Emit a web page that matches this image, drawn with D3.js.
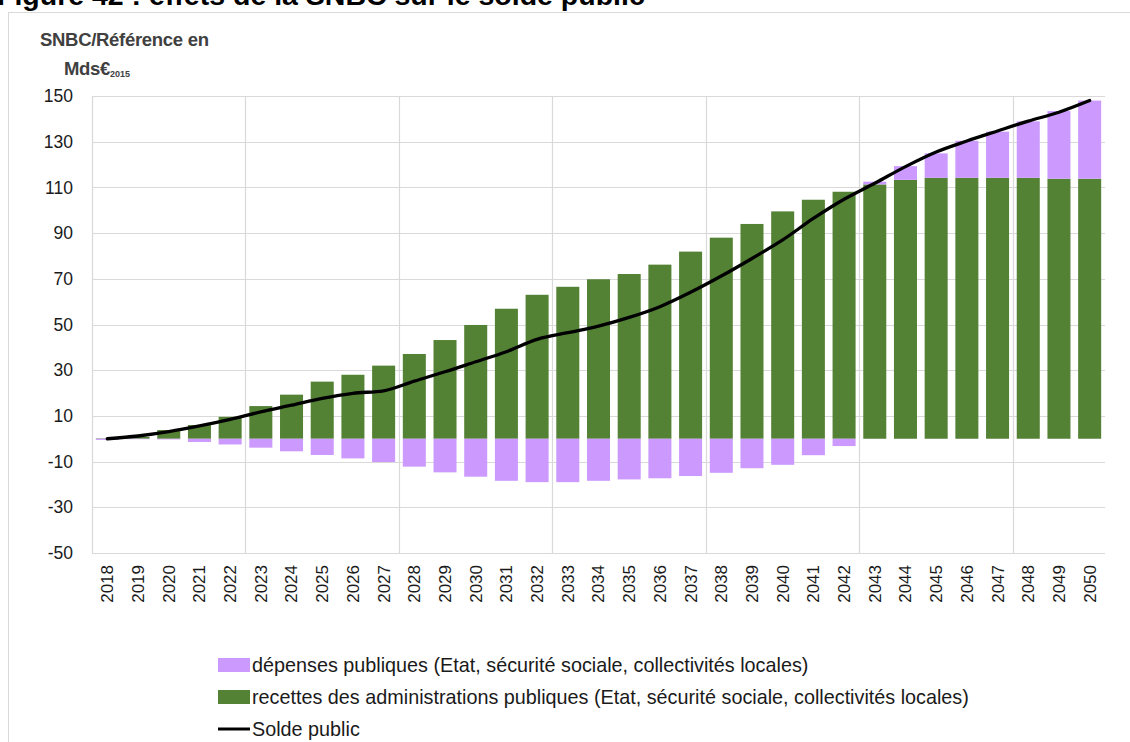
<!DOCTYPE html>
<html>
<head>
<meta charset="utf-8">
<script src="https://cdn.jsdelivr.net/npm/d3@7"></script>
<style>
  html, body { margin: 0; padding: 0; background: #fff; }
  svg { display: block; }
</style>
</head>
<body>
<svg id="chart" width="1130" height="742"></svg>
<script>
// Years on the category axis
const years = ["2018","2019","2020","2021","2022","2023","2024","2025","2026","2027","2028","2029","2030","2031","2032","2033","2034","2035","2036","2037","2038","2039","2040","2041","2042","2043","2044","2045","2046","2047","2048","2049","2050"];

// Recettes des administrations publiques (Mds€ 2015)
const recettes = [0.2,0.8,3.8,6.0,9.6,14.3,19.3,25.0,28.0,32.0,37.1,43.2,49.8,56.9,63.0,66.5,69.8,72.1,76.2,81.9,88.0,94.0,99.5,104.6,108.1,111.3,113.3,114.2,114.2,114.2,114.2,113.8,113.8];

// Dépenses publiques (Mds€ 2015)
const depenses = [-0.5,-0.2,-0.3,-1.4,-2.5,-3.9,-5.5,-7.1,-8.6,-10.2,-12.2,-14.7,-16.6,-18.4,-19.0,-19.0,-18.4,-17.8,-17.3,-16.3,-14.9,-12.9,-11.4,-7.2,-3.2,1.2,6.0,10.7,16.2,20.2,24.7,29.6,34.2];

// Solde public (Mds€ 2015)
const solde = [0,1.2,3.1,5.6,8.5,11.8,14.7,17.7,19.9,21.0,25.2,29.3,33.7,38.1,43.5,46.4,49.3,53.1,57.8,64.1,71.2,78.9,87.0,96.4,104.8,111.8,119.1,125.5,130.3,134.7,139.0,142.9,148.0];

// Value axis ticks
const yTicks = [150,130,110,90,70,50,30,10,-10,-30,-50];

const legendLabels = [
  "dépenses publiques (Etat, sécurité sociale, collectivités locales)",
  "recettes des administrations publiques (Etat, sécurité sociale, collectivités locales)",
  "Solde public"
];

const COL_DEP = "#cc99ff";
const COL_REC = "#548235";
const GRID = "#d9d9d9";
const SANS = "'Liberation Sans', Arial, sans-serif";

const svg = d3.select("#chart");

// Chart title (runs off the top edge)
svg.append("text")
  .attr("x", -3).attr("y", 5)
  .attr("font-family", SANS).attr("font-weight", "bold")
  .attr("font-size", 28.5).attr("fill", "#000")
  .text("Figure 42 : effets de la SNBC sur le solde public");

// Chart frame
svg.append("rect")
  .attr("x", 8.5).attr("y", 12.5).attr("width", 1140).attr("height", 760)
  .attr("fill", "none").attr("stroke", GRID);

const x = d3.scaleBand().domain(years).range([92, 1105]).paddingInner(0.25).paddingOuter(0.125);
const y = d3.scaleLinear().domain([-50, 150]).range([553, 96]);

const step = x.step();
const x0 = x.range()[0];

// Horizontal gridlines
svg.append("g").selectAll("line").data(yTicks).join("line")
  .attr("x1", x0).attr("x2", 1105)
  .attr("y1", d => Math.round(y(d)) + 0.5).attr("y2", d => Math.round(y(d)) + 0.5)
  .attr("stroke", GRID).attr("stroke-width", 1.2);

// Vertical gridlines every five categories
const vIdx = [5, 10, 15, 20, 25, 30];
svg.append("g").selectAll("line").data(vIdx).join("line")
  .attr("x1", d => Math.round(x0 + d * step) + 0.5).attr("x2", d => Math.round(x0 + d * step) + 0.5)
  .attr("y1", y(150)).attr("y2", y(-50))
  .attr("stroke", GRID).attr("stroke-width", 1.2);

// Left axis line
svg.append("line")
  .attr("x1", x0 + 0.5).attr("x2", x0 + 0.5).attr("y1", y(150)).attr("y2", y(-50))
  .attr("stroke", GRID).attr("stroke-width", 1.2);

// Value axis labels
const yAxis = d3.axisLeft(y).tickValues(yTicks).tickFormat(d => String(d)).tickSize(0).tickPadding(0);
const gy = svg.append("g").attr("transform", "translate(73,0)").call(yAxis);
gy.select(".domain").remove();
gy.selectAll("text").attr("font-family", SANS).attr("font-size", 17.5).attr("fill", "#1a1a1a");

// Category axis labels, rotated
const xAxis = d3.axisBottom(x).tickSize(0).tickPadding(0);
const gx = svg.append("g").attr("transform", `translate(0,${y(-50)})`).call(xAxis);
gx.select(".domain").remove();
gx.selectAll("text")
  .attr("font-family", SANS).attr("font-size", 17).attr("fill", "#1a1a1a")
  .attr("transform", "rotate(-90)")
  .attr("text-anchor", "end").attr("dy", "0.35em").attr("x", -12).attr("y", 0);

// Stacked bars: recettes from zero, dépenses stacked on top when positive, below zero when negative
const rows = years.map((yr, i) => ({ yr, rec: recettes[i], dep: depenses[i] }));

const bars = svg.append("g");
bars.selectAll("rect.rec").data(rows).join("rect")
  .attr("class", "rec")
  .attr("x", d => x(d.yr)).attr("width", x.bandwidth())
  .attr("y", d => y(Math.max(0, d.rec)))
  .attr("height", d => Math.abs(y(d.rec) - y(0)))
  .attr("fill", COL_REC);

bars.selectAll("rect.dep").data(rows).join("rect")
  .attr("class", "dep")
  .attr("x", d => x(d.yr)).attr("width", x.bandwidth())
  .attr("y", d => d.dep >= 0 ? y(d.rec + d.dep) : y(0))
  .attr("height", d => Math.abs(y(d.dep) - y(0)))
  .attr("fill", COL_DEP);

// Solde public line
const line = d3.line()
  .x((d, i) => x(years[i]) + x.bandwidth() / 2)
  .y(d => y(d))
  .curve(d3.curveMonotoneX);

svg.append("path").datum(solde)
  .attr("d", line)
  .attr("fill", "none").attr("stroke", "#000").attr("stroke-width", 3.3)
  .attr("stroke-linecap", "round").attr("stroke-linejoin", "round");

// Value axis title
svg.append("text")
  .attr("x", 40).attr("y", 46)
  .attr("font-family", SANS).attr("font-weight", "bold").attr("fill", "#404040")
  .attr("font-size", 18.5).attr("letter-spacing", -0.3)
  .text("SNBC/Référence en");
const t2 = svg.append("text")
  .attr("x", 64).attr("y", 75)
  .attr("font-family", SANS).attr("font-weight", "bold").attr("fill", "#404040");
t2.append("tspan").attr("font-size", 18.5).attr("letter-spacing", -0.3).text("Mds€");
t2.append("tspan").attr("font-size", 9).attr("dy", 2).text("2015");

// Legend
const legend = svg.append("g");
const ly = [665, 697, 729];
legend.append("rect").attr("x", 218).attr("y", ly[0] - 7).attr("width", 32).attr("height", 14).attr("fill", COL_DEP);
legend.append("rect").attr("x", 218).attr("y", ly[1] - 7).attr("width", 32).attr("height", 14).attr("fill", COL_REC);
legend.append("line").attr("x1", 218).attr("x2", 250).attr("y1", ly[2]).attr("y2", ly[2])
  .attr("stroke", "#000").attr("stroke-width", 3);
legend.selectAll("text").data(legendLabels).join("text")
  .attr("x", 252).attr("y", (d, i) => ly[i]).attr("dy", "0.35em")
  .attr("font-family", SANS).attr("font-size", 19.8).attr("fill", "#1a1a1a")
  .text(d => d);
</script>
</body>
</html>
